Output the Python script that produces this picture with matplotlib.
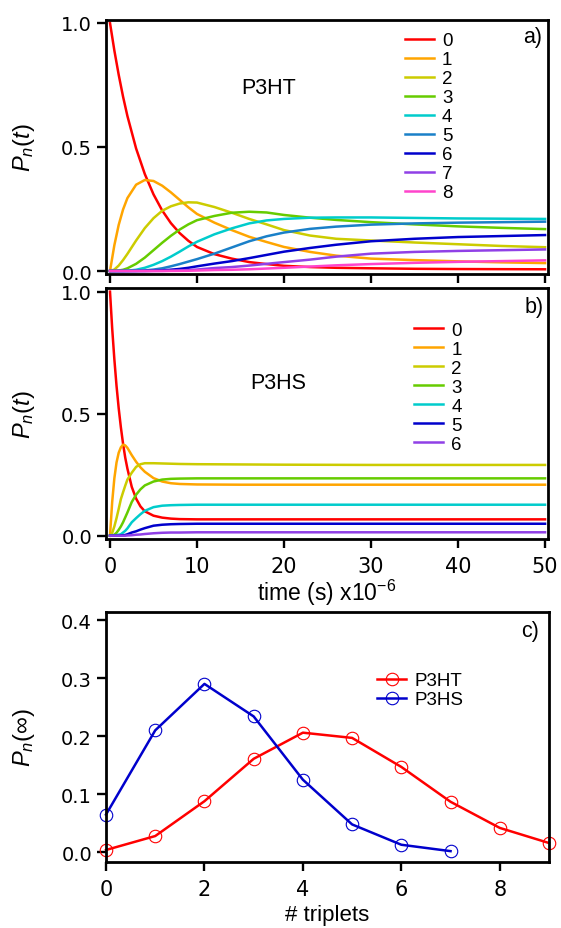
import matplotlib
matplotlib.use("Agg")
import matplotlib.pyplot as plt

plt.rcParams['font.family'] = ['Liberation Sans', 'DejaVu Sans']
plt.rcParams['mathtext.fontset'] = 'custom'
plt.rcParams['mathtext.rm'] = 'Liberation Sans'
plt.rcParams['mathtext.it'] = 'Liberation Sans:italic'
plt.rcParams['mathtext.bf'] = 'Liberation Sans:bold'

# ---------------- data: panel a (P3HT) ----------------
t_a = [0, 0.5, 1, 1.5, 2, 3, 4, 5, 6, 7, 8, 9, 10, 12, 14, 16, 18, 20, 23, 26, 30, 35, 40, 45, 50]
p3ht_0 = [1.0, 0.889, 0.791, 0.703, 0.625, 0.494, 0.391, 0.309, 0.244, 0.193, 0.153, 0.122, 0.097, 0.068, 0.05, 0.036, 0.028, 0.021, 0.016, 0.013, 0.011, 0.009, 0.008, 0.0075, 0.007]
p3ht_1 = [0, 0.104, 0.186, 0.248, 0.294, 0.348, 0.367, 0.363, 0.344, 0.317, 0.287, 0.257, 0.23, 0.195, 0.165, 0.138, 0.117, 0.097, 0.077, 0.062, 0.05, 0.044, 0.039, 0.035, 0.032]
p3ht_2 = [0, 0.006, 0.022, 0.044, 0.069, 0.123, 0.173, 0.213, 0.243, 0.261, 0.272, 0.277, 0.276, 0.258, 0.235, 0.21, 0.188, 0.165, 0.143, 0.13, 0.123, 0.115, 0.108, 0.101, 0.096]
p3ht_3 = [0, 0.0003, 0.002, 0.005, 0.011, 0.029, 0.054, 0.084, 0.114, 0.142, 0.167, 0.188, 0.205, 0.222, 0.235, 0.239, 0.236, 0.226, 0.215, 0.206, 0.197, 0.188, 0.18, 0.174, 0.169]
p3ht_4 = [0, 0, 0.0001, 0.0005, 0.0013, 0.005, 0.013, 0.025, 0.04, 0.058, 0.078, 0.099, 0.118, 0.148, 0.172, 0.192, 0.204, 0.21, 0.215, 0.216, 0.216, 0.214, 0.212, 0.211, 0.21]
p3ht_5 = [0, 0, 0, 0, 0.0001, 0.0007, 0.0024, 0.0058, 0.011, 0.019, 0.028, 0.038, 0.048, 0.07, 0.095, 0.12, 0.14, 0.155, 0.17, 0.179, 0.187, 0.192, 0.195, 0.197, 0.199]
p3ht_6 = [0, 0, 0, 0, 0, 0.0001, 0.0004, 0.0011, 0.0027, 0.0053, 0.0085, 0.013, 0.019, 0.03, 0.04, 0.052, 0.065, 0.078, 0.093, 0.106, 0.12, 0.13, 0.137, 0.141, 0.145]
p3ht_7 = [0, 0, 0, 0, 0, 0, 0, 0.0002, 0.0005, 0.0012, 0.0025, 0.004, 0.006, 0.012, 0.016, 0.022, 0.029, 0.036, 0.046, 0.058, 0.07, 0.077, 0.081, 0.084, 0.087]
p3ht_8 = [0, 0, 0, 0, 0, 0, 0, 0, 0, 0.0003, 0.0006, 0.001, 0.002, 0.004, 0.005, 0.007, 0.01, 0.013, 0.018, 0.023, 0.028, 0.033, 0.037, 0.04, 0.043]
p3ht_series = [p3ht_0, p3ht_1, p3ht_2, p3ht_3, p3ht_4, p3ht_5, p3ht_6, p3ht_7, p3ht_8]
p3ht_labels = ['0', '1', '2', '3', '4', '5', '6', '7', '8']

# ---------------- data: panel b (P3HS) ----------------
t_b = [0, 0.25, 0.5, 0.75, 1, 1.25, 1.5, 1.75, 2, 2.5, 3, 3.5, 4, 5, 6, 7, 8, 10, 15, 20, 30, 40, 50]
p3hs_0 = [1.0, 0.85, 0.723, 0.614, 0.522, 0.444, 0.377, 0.32, 0.275, 0.2, 0.152, 0.12, 0.1, 0.082, 0.074, 0.07, 0.068, 0.067, 0.067, 0.067, 0.067, 0.067, 0.067]
p3hs_1 = [0, 0.138, 0.235, 0.3, 0.34, 0.362, 0.373, 0.37, 0.36, 0.33, 0.303, 0.28, 0.262, 0.236, 0.222, 0.215, 0.212, 0.21, 0.209, 0.209, 0.209, 0.209, 0.209]
p3hs_2 = [0, 0.011, 0.038, 0.072, 0.11, 0.15, 0.178, 0.205, 0.23, 0.258, 0.282, 0.293, 0.297, 0.297, 0.296, 0.295, 0.294, 0.293, 0.292, 0.291, 0.29, 0.29, 0.29]
p3hs_3 = [0, 0.001, 0.004, 0.012, 0.024, 0.038, 0.055, 0.075, 0.095, 0.138, 0.168, 0.19, 0.206, 0.222, 0.23, 0.233, 0.234, 0.235, 0.235, 0.235, 0.235, 0.235, 0.235]
p3hs_4 = [0, 0, 0, 0.002, 0.004, 0.006, 0.013, 0.02, 0.03, 0.055, 0.072, 0.088, 0.102, 0.117, 0.123, 0.125, 0.126, 0.127, 0.127, 0.127, 0.127, 0.127, 0.127]
p3hs_5 = [0, 0, 0, 0, 0, 0.001, 0.002, 0.003, 0.006, 0.013, 0.018, 0.025, 0.031, 0.041, 0.045, 0.047, 0.048, 0.049, 0.049, 0.049, 0.049, 0.049, 0.049]
p3hs_6 = [0, 0, 0, 0, 0, 0, 0, 0, 0.001, 0.002, 0.004, 0.005, 0.007, 0.01, 0.012, 0.013, 0.013, 0.014, 0.014, 0.014, 0.014, 0.014, 0.014]
p3hs_series = [p3hs_0, p3hs_1, p3hs_2, p3hs_3, p3hs_4, p3hs_5, p3hs_6]
p3hs_labels = ['0', '1', '2', '3', '4', '5', '6']

# ---------------- data: panel c (steady state) ----------------
n_p3ht = [0, 1, 2, 3, 4, 5, 6, 7, 8, 9]
pinf_p3ht = [0.004, 0.028, 0.088, 0.161, 0.206, 0.197, 0.147, 0.087, 0.042, 0.016]
n_p3hs = [0, 1, 2, 3, 4, 5, 6, 7]
pinf_p3hs = [0.065, 0.21, 0.29, 0.234, 0.125, 0.048, 0.013, 0.002]

# ---------------- styles ----------------
colors_a = ['#ff0000', '#ffa500', '#cccc00', '#66cc00', '#00cccc', '#1a80c8', '#0000cc', '#9040e6', '#ff44cc']
colors_b = ['#ff0000', '#ffa500', '#cccc00', '#66cc00', '#00cccc', '#0000cc', '#9040e6']

W, H = 561, 929
fig = plt.figure(figsize=(W / 100, H / 100), dpi=100)

def add_axes(x0, y0, x1, y1):
    return fig.add_axes([x0 / W, 1 - y1 / H, (x1 - x0) / W, (y1 - y0) / H])

ax_a = add_axes(106, 21, 548, 275)
ax_b = add_axes(106, 289, 548, 540)
ax_c = add_axes(106, 613, 549, 863)

LW = 1.8
TICKFONT = 'DejaVu Sans'
for ax in (ax_a, ax_b, ax_c):
    for s in ax.spines.values():
        s.set_linewidth(2.0)
    ax.tick_params(direction='out', length=6.5, width=1.7, labelsize=14, pad=3.5)
    ax.tick_params(axis='x', labelsize=15, pad=6.0)

def tickfont(ax):
    for lab in ax.get_xticklabels() + ax.get_yticklabels():
        lab.set_family(TICKFONT)

LEG = dict(loc='upper left', frameon=False, fontsize=13.5, handlelength=1.55,
           handletextpad=0.43, labelspacing=0.1, borderpad=0, borderaxespad=0)

# panel a
for ys, c, lab in zip(p3ht_series, colors_a, p3ht_labels):
    ax_a.plot(t_a, ys, color=c, lw=LW, label=lab)
ax_a.set_xlim(-0.46, 50.34)
ax_a.set_ylim(-0.012, 1.012)
ax_a.set_xticks([0, 10, 20, 30, 40, 50])
ax_a.set_xticklabels([])
ax_a.set_yticks([0.0, 0.5, 1.0])
ax_a.set_yticklabels(['0.0', '0.5', '1.0'])
tickfont(ax_a)
ax_a.set_ylabel('$P_n(t)$', fontsize=17)
ax_a.yaxis.set_label_coords(-0.156, 0.5)
ax_a.text(0.305, 0.736, 'P3HT', transform=ax_a.transAxes, fontsize=15.5, ha='left', va='center')
ax_a.text(0.986, 0.937, 'a)', transform=ax_a.transAxes, fontsize=15.5, ha='right', va='center')
ax_a.legend(bbox_to_anchor=(0.676, 0.953), **LEG)

# panel b
for ys, c, lab in zip(p3hs_series, colors_b, p3hs_labels):
    ax_b.plot(t_b, ys, color=c, lw=LW, label=lab)
ax_b.set_xlim(-0.46, 50.34)
ax_b.set_ylim(-0.0135, 1.015)
ax_b.set_xticks([0, 10, 20, 30, 40, 50])
ax_b.set_yticks([0.0, 0.5, 1.0])
ax_b.set_yticklabels(['0.0', '0.5', '1.0'])
tickfont(ax_b)
ax_b.set_ylabel('$P_n(t)$', fontsize=17)
ax_b.yaxis.set_label_coords(-0.156, 0.5)
ax_b.set_xlabel('time (s) x10$^{-6}$', fontsize=16.5)
ax_b.xaxis.set_label_coords(0.5, -0.151)
ax_b.text(0.326, 0.622, 'P3HS', transform=ax_b.transAxes, fontsize=15.5, ha='left', va='center')
ax_b.text(0.99, 0.928, 'b)', transform=ax_b.transAxes, fontsize=15.5, ha='right', va='center')
ax_b.legend(bbox_to_anchor=(0.697, 0.866), **LEG)

# panel c
ax_c.plot(n_p3ht, pinf_p3ht, color='#ff0000', lw=LW, marker='o', ms=9, mfc='none',
          mec='#ff0000', mew=0.8, label='P3HT', clip_on=False)
ax_c.plot(n_p3hs, pinf_p3hs, color='#0000cc', lw=LW, marker='o', ms=9, mfc='none',
          mec='#0000cc', mew=0.8, label='P3HS', clip_on=False)
ax_c.set_xlim(0, 9)
ax_c.set_ylim(-0.0167, 0.4138)
ax_c.set_xticks([0, 2, 4, 6, 8])
ax_c.set_yticks([0.0, 0.1, 0.2, 0.3, 0.4])
ax_c.set_yticklabels(['0.0', '0.1', '0.2', '0.3', '0.4'])
tickfont(ax_c)
ax_c.set_ylabel('$P_n(\\infty)$', fontsize=17)
ax_c.yaxis.set_label_coords(-0.156, 0.5)
ax_c.set_xlabel('# triplets', fontsize=16)
ax_c.xaxis.set_label_coords(0.5, -0.168)
ax_c.text(0.978, 0.924, 'c)', transform=ax_c.transAxes, fontsize=15.5, ha='right', va='center')
ax_c.legend(bbox_to_anchor=(0.612, 0.759), numpoints=1, **LEG)

fig.savefig('out.png', dpi=100)
